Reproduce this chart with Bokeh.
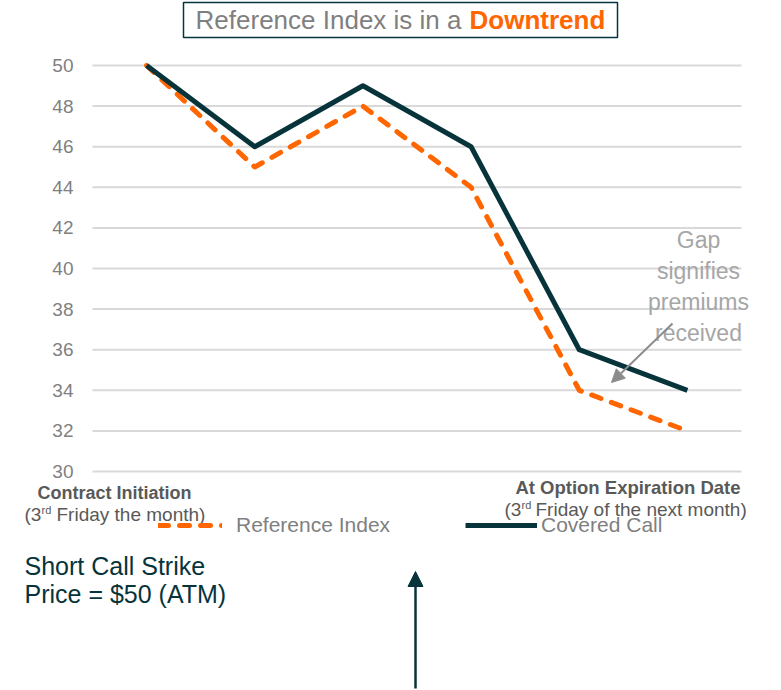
from bokeh.plotting import figure
from bokeh.models import (Range1d, FixedTicker, Label, Legend, LegendItem, Arrow,
                          NormalHead, BoxAnnotation)
from bokeh.embed import file_html
from bokeh.resources import INLINE

# ---------------- data ----------------
steps = [0, 1, 2, 3, 4, 5]
reference_index = [50, 45, 48, 44, 34, 32]
covered_call = [50, 46, 49, 46, 36, 34]
y_ticks = [30, 32, 34, 36, 38, 40, 42, 44, 46, 48, 50]
series_names = ["Reference Index", "Covered Call"]
title_plain = "Reference Index is in a"
title_bold = "Downtrend"
start_label = "Contract Initiation"
end_label = "At Option Expiration Date"
gap_note = "Gap\nsignifies\npremiums\nreceived"
strike_note = ["Short Call Strike", "Price = $50 (ATM)"]

# ---------------- style ----------------
ORANGE = "#FF6600"
DARK = "#07343B"
GRAY = "#7F7F7F"
MIDGRAY = "#595959"
LIGHTGRAY = "#A6A6A6"
GRID = "#D9D9D9"
FONT = "Liberation Sans"

W, H = 781, 690
# plot area in canvas pixels: x 92..741 holds 6 slots, y 65 (=50) .. 471 (=30)
PX_X0, PX_X1 = 92, 741
PX_Y50, PX_Y30 = 65, 471
UX = (PX_X1 - PX_X0) / 6.0
UY = (PX_Y30 - PX_Y50) / 20.0


def dx(px):
    return (px - (PX_X0 + UX / 2)) / UX


def dy(py):
    return 50 - (py - PX_Y50) / UY


p = figure(width=W, height=H, x_range=Range1d(dx(0), dx(W)), y_range=Range1d(dy(H), dy(0)),
           output_backend="svg", toolbar_location=None, x_axis_location=None,
           min_border=0, min_border_left=0, min_border_right=0, min_border_top=0,
           min_border_bottom=0)
p.outline_line_color = None
p.background_fill_color = "white"
p.border_fill_color = "white"
p.xgrid.visible = False
p.ygrid.visible = False

yax = p.yaxis[0]
yax.fixed_location = dx(PX_X0)
yax.ticker = FixedTicker(ticks=y_ticks)
yax.axis_line_color = None
yax.major_tick_line_color = None
yax.minor_tick_line_color = None
yax.major_tick_out = 0
yax.major_tick_in = 0
yax.major_label_standoff = 19
yax.major_label_text_font = FONT
yax.major_label_text_font_size = "19px"
yax.major_label_text_color = GRAY

# horizontal gridlines across the plot area only
p.segment(x0=dx(PX_X0), x1=dx(PX_X1), y0=y_ticks, y1=y_ticks, line_color=GRID, line_width=2)

r1 = p.line(steps, reference_index, line_color=ORANGE, line_width=5, line_dash="10 11",
            line_cap="round", line_join="round")
r2 = p.line(steps, covered_call, line_color=DARK, line_width=5, line_join="round")

common_leg = dict(orientation="horizontal", glyph_height=20, label_height=20, padding=0,
                  margin=0, border_line_color=None, background_fill_alpha=0,
                  label_text_font=FONT, label_text_font_size="21px", label_text_color=GRAY,
                  spacing=0)
leg1 = Legend(items=[LegendItem(label=series_names[0], renderers=[r1])],
              location=(158, H - 537), glyph_width=64, label_standoff=14, **common_leg)
leg2 = Legend(items=[LegendItem(label=series_names[1], renderers=[r2])],
              location=(465, H - 537), glyph_width=72, label_standoff=4, **common_leg)
p.add_layout(leg1)
p.add_layout(leg2)

# title box
box = BoxAnnotation(left=dx(183), right=dx(617), top=dy(2), bottom=dy(37),
                    fill_color="white", fill_alpha=1, line_color=DARK, line_alpha=1,
                    line_width=1.5)
p.add_layout(box)
p.add_layout(Label(x=dx(461), y=dy(19), text=title_plain, text_align="right",
                   text_baseline="middle", text_font=FONT, text_font_size="26px",
                   text_color=GRAY))
p.add_layout(Label(x=dx(469), y=dy(19), text=title_bold, text_align="left",
                   text_baseline="middle", text_font=FONT, text_font_size="26px",
                   text_font_style="bold", text_color=ORANGE))

# x-end labels
p.add_layout(Label(x=dx(114), y=dy(492), text=start_label, text_align="center",
                   text_baseline="middle", text_font=FONT, text_font_size="18px",
                   text_font_style="bold", text_color=MIDGRAY))
p.add_layout(Label(x=dx(740), y=dy(487), text=end_label, text_align="right",
                   text_baseline="middle", text_font=FONT, text_font_size="18.5px",
                   text_font_style="bold", text_color=MIDGRAY))


def paren(x_open, x_sup, x_rest, mid_y, rest):
    p.add_layout(Label(x=dx(x_open), y=dy(mid_y), text="(3", text_align="left",
                       text_baseline="middle", text_font=FONT,
                       text_font_size="19px", text_color=MIDGRAY))
    p.add_layout(Label(x=dx(x_sup), y=dy(mid_y - 5), text="rd", text_align="left",
                       text_baseline="middle", text_font=FONT,
                       text_font_size="11px", text_color=MIDGRAY))
    p.add_layout(Label(x=dx(x_rest), y=dy(mid_y), text=rest, text_align="left",
                       text_baseline="middle", text_font=FONT,
                       text_font_size="19px", text_color=MIDGRAY))


paren(24, 41, 56, 514, "Friday the month)")
paren(504, 521, 535, 509, "Friday of the next month)")

# gap note
p.add_layout(Label(x=dx(698), y=dy(286), text=gap_note, text_align="center",
                   text_baseline="middle", text_font=FONT, text_font_size="23px",
                   text_line_height=1.18, text_color=LIGHTGRAY))
p.add_layout(Arrow(x_start=dx(672), y_start=dy(323), x_end=dx(611), y_end=dy(382),
                   line_color="#8C8C8C", line_width=2,
                   end=NormalHead(size=13, fill_color="#8C8C8C", line_color="#8C8C8C")))

# strike note
p.add_layout(Label(x=dx(24), y=dy(565), text=strike_note[0], text_align="left",
                   text_baseline="middle", text_font=FONT, text_font_size="25px",
                   text_color=DARK))
p.add_layout(Label(x=dx(24), y=dy(593), text=strike_note[1], text_align="left",
                   text_baseline="middle", text_font=FONT, text_font_size="25px",
                   text_color=DARK))
p.add_layout(Arrow(x_start=dx(415), y_start=dy(688), x_end=dx(415), y_end=dy(571),
                   line_color=DARK, line_width=2.5,
                   end=NormalHead(size=15, fill_color=DARK, line_color=DARK)))

open("out.html", "w").write(file_html(p, INLINE))
